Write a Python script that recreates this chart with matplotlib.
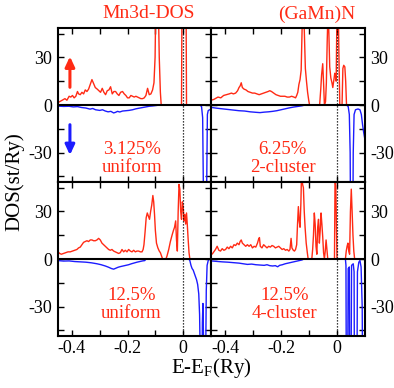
import matplotlib
matplotlib.use('Agg')
import matplotlib.pyplot as plt

plt.rcParams.update({
    'font.family': ['Liberation Serif', 'DejaVu Serif'],
    'mathtext.fontset': 'custom',
    'mathtext.rm': 'Liberation Serif',
    'axes.unicode_minus': False,
    'font.size': 13,
})

RED = '#ff2a14'
BLUE = '#1c1cff'

# ---- data: Mn 3d DOS, spin up (positive) and spin down (negative) ----
# panel a: 3.125% uniform
e_up_a = [-0.450, -0.440, -0.430, -0.425, -0.418, -0.410, -0.404, -0.398, -0.392, -0.386,
          -0.380, -0.376, -0.370, -0.364, -0.358, -0.352, -0.346, -0.340, -0.334, -0.328,
          -0.322, -0.316, -0.309, -0.303, -0.297, -0.291, -0.285, -0.279, -0.273, -0.267,
          -0.261, -0.255, -0.249, -0.243, -0.237, -0.231, -0.225, -0.218, -0.212, -0.206,
          -0.200, -0.194, -0.188, -0.182, -0.176, -0.170, -0.164, -0.158, -0.152, -0.146,
          -0.140, -0.134, -0.128, -0.122, -0.116, -0.110, -0.105, -0.101, -0.098, -0.094,
          -0.090, -0.086, -0.082, -0.079, -0.040, -0.006, -0.004, 0.000, 0.004, 0.010,
          0.012, 0.060, 0.100]
dos_up_a = [1.5, 2.5, 3.5, 4, 3, 5.5, 5, 6, 4.5, 5.5,
            8.5, 7, 6.5, 8, 7, 9.5, 8.5, 10, 13, 16,
            13.5, 11, 10, 9, 8, 10.5, 8, 6.5, 9, 9.5,
            11.5, 7, 8.5, 8.5, 7, 6, 8, 8.5, 7, 6,
            4.5, 4.5, 6, 5.5, 5, 5.5, 5, 4.5, 4, 4,
            4.5, 6, 10.5, 6.5, 7, 9.5, 14, 30, 70, 90,
            70, 30, 8, 0, 0, 0, 80, 120, 120, 80,
            0, 0, 0]
e_dn_a = [-0.450, -0.430, -0.410, -0.395, -0.380, -0.365, -0.350, -0.335, -0.325, -0.315,
          -0.300, -0.290, -0.280, -0.270, -0.260, -0.250, -0.243, -0.236, -0.228, -0.218,
          -0.206, -0.195, -0.182, -0.170, -0.158, -0.146, -0.134, -0.122, -0.110, -0.096,
          -0.085, 0.060, 0.066, 0.070, 0.073, 0.080, 0.084, 0.087, 0.090, 0.095, 0.100]
dos_dn_a = [-0.7, -0.9, -0.8, -1.2, -1.0, -1.6, -1.9, -2.6, -2.2, -3.0,
            -3.4, -3.0, -3.8, -4.3, -4.0, -5.0, -4.6, -4.0, -4.4, -3.8,
            -3.6, -3.4, -3.0, -2.4, -2.0, -1.6, -1.2, -0.8, -0.6, -0.3,
            0, 0, -1, -8, -60, -120, -60, -6, -3.5, -3, -3]

# panel b: 6.25% 2-cluster
e_up_b = [-0.450, -0.440, -0.430, -0.425, -0.415, -0.405, -0.395, -0.385, -0.377, -0.370,
          -0.362, -0.355, -0.350, -0.346, -0.342, -0.338, -0.332, -0.325, -0.318, -0.310,
          -0.302, -0.294, -0.286, -0.278, -0.270, -0.262, -0.254, -0.246, -0.240, -0.234,
          -0.226, -0.218, -0.210, -0.202, -0.194, -0.186, -0.178, -0.170, -0.162, -0.154,
          -0.148, -0.144, -0.140, -0.136, -0.132, -0.128, -0.125, -0.122, -0.119, -0.116,
          -0.113, -0.109, -0.105, -0.101, -0.098, -0.062, -0.058, -0.055, -0.051, -0.048,
          -0.045, -0.041, -0.038, -0.035, -0.032, -0.029, -0.026, -0.022, -0.018, -0.015,
          -0.011, -0.008, -0.005, -0.003, 0.000, 0.004, 0.007, 0.010, 0.018, 0.021,
          0.024, 0.028, 0.031, 0.034, 0.100]
dos_up_b = [3, 3.5, 4.5, 5, 4.5, 6, 6.5, 7, 7.5, 7,
            7.5, 9, 11, 12, 14, 11, 10, 9.5, 8.5, 8,
            7.5, 7.5, 7, 6.5, 7, 7.5, 8, 8.5, 9, 8.5,
            7.5, 6.5, 6, 5.5, 5.5, 5.5, 5, 5, 5.5, 5,
            4.5, 6, 8, 13, 16, 22, 45, 70, 60, 42,
            23, 15, 8, 3, 0, 0, 10, 19, 26, 14,
            0, 2, 14, 40, 60, 45, 24, 17, 14, 11,
            16, 20, 18, 15, 60, 70, 30, 0, 0, 23,
            25, 24, 15, 0, 0]
e_dn_b = [-0.450, -0.430, -0.410, -0.390, -0.370, -0.350, -0.330, -0.310, -0.290, -0.275,
          -0.260, -0.245, -0.230, -0.215, -0.200, -0.185, -0.170, -0.155, -0.140, -0.125,
          -0.115, 0.034, 0.040, 0.044, 0.047, 0.050, 0.055, 0.058, 0.061, 0.066,
          0.075, 0.082, 0.087, 0.091, 0.095, 0.100]
dos_dn_b = [-1.5, -2.0, -2.4, -2.8, -3.2, -3.6, -3.8, -4.3, -4.6, -4.8,
            -4.5, -4.3, -4.0, -3.6, -3.0, -2.4, -1.8, -1.3, -0.9, -0.5,
            0, 0, -1, -6, -30, -120, -120, -30, -6, -3,
            -2.5, -3, -6, -12, -17, -22]

# panel c: 12.5% uniform
e_up_c = [-0.450, -0.444, -0.438, -0.430, -0.422, -0.414, -0.406, -0.398, -0.390, -0.382,
          -0.376, -0.370, -0.364, -0.358, -0.352, -0.346, -0.340, -0.334, -0.328, -0.322,
          -0.316, -0.310, -0.304, -0.298, -0.292, -0.286, -0.280, -0.274, -0.268, -0.262,
          -0.256, -0.250, -0.244, -0.238, -0.232, -0.226, -0.220, -0.214, -0.208, -0.202,
          -0.196, -0.190, -0.184, -0.178, -0.172, -0.166, -0.160, -0.154, -0.148, -0.144,
          -0.141, -0.137, -0.133, -0.129, -0.125, -0.121, -0.117, -0.113, -0.109, -0.106,
          -0.103, -0.100, -0.096, -0.091, -0.086, -0.082, -0.078, -0.074, -0.062, -0.058,
          -0.052, -0.046, -0.040, -0.035, -0.031, -0.027, -0.024, -0.021, -0.018, -0.015,
          -0.012, -0.009, -0.006, -0.003, 0.000, 0.003, 0.006, 0.009, 0.012, 0.015,
          0.018, 0.021, 0.024, 0.100]
dos_up_c = [4.5, 3.5, 3, 3.5, 4, 4.5, 4.5, 5, 5.5, 6,
            7, 7.5, 9, 10.5, 11, 11.5, 11, 12, 12, 11.5,
            11.5, 12, 13, 12, 10, 9, 8, 7, 6, 5.5,
            6, 5, 4.5, 4, 3.5, 4, 6, 4.5, 5.5, 4.5,
            6, 5, 4.5, 5.5, 4.5, 5, 5, 4.5, 4.5, 6,
            9, 17, 26, 29, 27, 25, 30, 34, 40, 36,
            28, 18, 10, 7, 5, 4, 2, 0, 0, 2,
            6, 11, 15, 18, 20, 24, 12, 5, 30, 47,
            44, 30, 25, 36, 33, 24, 28, 22, 29, 21,
            12, 4, 0, 0]
e_dn_c = [-0.450, -0.430, -0.410, -0.390, -0.370, -0.350, -0.330, -0.310, -0.295, -0.280,
          -0.268, -0.258, -0.250, -0.242, -0.234, -0.226, -0.216, -0.206, -0.196, -0.186,
          -0.176, -0.166, -0.156, -0.146, -0.138, -0.134, 0.020, 0.024, 0.028, 0.032,
          0.036, 0.040, 0.044, 0.048, 0.052, 0.056, 0.059, 0.062, 0.066, 0.069,
          0.071, 0.074, 0.077, 0.080, 0.083, 0.086, 0.090, 0.094, 0.100]
dos_dn_c = [-1.0, -1.3, -1.2, -1.6, -1.8, -2.0, -2.4, -3.0, -3.6, -4.4,
            -5.2, -6.0, -6.4, -5.8, -5.2, -4.8, -4.4, -4.0, -3.6, -3.0,
            -2.5, -2.0, -1.6, -1.2, -1.0, 0, 0, -1, -4, -6,
            -7, -9, -11, -13, -16, -22, -35, -70, -120, -40,
            -28, -60, -120, -80, -20, -4, -1, 0, 0]

# panel d: 12.5% 4-cluster
e_up_d = [-0.450, -0.444, -0.440, -0.434, -0.428, -0.422, -0.416, -0.410, -0.404, -0.398,
          -0.392, -0.386, -0.380, -0.374, -0.368, -0.362, -0.356, -0.350, -0.346, -0.342,
          -0.338, -0.332, -0.326, -0.320, -0.314, -0.308, -0.302, -0.296, -0.290, -0.284,
          -0.280, -0.277, -0.274, -0.268, -0.262, -0.256, -0.250, -0.244, -0.238, -0.232,
          -0.226, -0.220, -0.214, -0.208, -0.202, -0.196, -0.190, -0.184, -0.178, -0.172,
          -0.168, -0.164, -0.161, -0.156, -0.152, -0.148, -0.144, -0.141, -0.138, -0.135,
          -0.132, -0.129, -0.126, -0.123, -0.120, -0.117, -0.114, -0.110, -0.106, -0.103,
          -0.090, -0.087, -0.084, -0.081, -0.078, -0.075, -0.072, -0.069, -0.066, -0.063,
          -0.060, -0.057, -0.054, -0.051, -0.048, -0.045, -0.042, -0.039, -0.036, -0.033,
          -0.009, -0.007, -0.004, -0.002, 0.000, 0.030, 0.033, 0.036, 0.039, 0.042,
          0.045, 0.048, 0.051, 0.054, 0.057, 0.060, 0.063, 0.100]
dos_up_d = [2.5, 3.5, 4.5, 6, 8, 5.5, 5, 6.5, 5.5, 6,
            7.5, 6.5, 8, 7, 9, 8.5, 10, 9, 11, 12,
            10, 9, 8, 9, 8, 9, 7, 8, 7.5, 10,
            12.5, 13.5, 8, 7, 9, 8, 7, 8, 7.5, 8.5,
            8, 7, 7.5, 8, 7, 6, 6.5, 5.5, 6, 5,
            6, 13, 7, 5.5, 5, 6, 9, 22, 33, 24,
            20, 35, 60, 47, 45, 30, 20, 10, 4, 0,
            0, 6, 15, 29, 22, 8, 3, 20, 25, 10,
            18, 29, 22, 14, 4, 0, 5, 12, 6, 0,
            0, 52, 45, 20, 0, 0, 5, 8, 10, 5,
            3, 30, 44, 30, 15, 5, 0, 0]
e_dn_d = [-0.450, -0.430, -0.410, -0.390, -0.370, -0.350, -0.335, -0.320, -0.305, -0.290,
          -0.275, -0.260, -0.250, -0.240, -0.230, -0.220, -0.212, -0.205, -0.195, -0.185,
          -0.175, -0.165, -0.155, -0.145, -0.135, -0.125, -0.118, 0.030, 0.032, 0.034,
          0.037, 0.040, 0.044, 0.046, 0.049, 0.052, 0.058, 0.061, 0.063, 0.070,
          0.073, 0.078, 0.082, 0.086, 0.090, 0.093, 0.100]
dos_dn_d = [-1.2, -1.5, -1.8, -2.0, -2.3, -2.6, -3.0, -3.4, -3.2, -3.6,
            -3.8, -4.0, -3.6, -4.2, -4.4, -4.2, -4.9, -4.0, -3.6, -3.0,
            -2.6, -2.2, -1.8, -1.4, -1.0, -0.6, 0, 0, -4, -120,
            -120, -6, -5, -120, -120, -4, -3, -8, -120, -120,
            -8, -2, -1, -5, -30, -120, -120]

panel_labels = [('3.125%', 'uniform'), ('6.25%', '2-cluster'),
                ('12.5%', 'uniform'), ('12.5%', '4-cluster')]
x_ticks = [-0.4, -0.2, 0.0]
x_tick_labels = ['-0.4', '-0.2', '0']
y_ticks = [-30, 0, 30]
y_tick_labels = ['-30', '0', '30']

curves = [
    (e_up_a, dos_up_a, e_dn_a, dos_dn_a),
    (e_up_b, dos_up_b, e_dn_b, dos_dn_b),
    (e_up_c, dos_up_c, e_dn_c, dos_dn_c),
    (e_up_d, dos_up_d, e_dn_d, dos_dn_d),
]

W, H = 394, 388
fig = plt.figure(figsize=(W / 100, H / 100), dpi=100)

# panel rectangles in pixels: (left, top, right, bottom)
boxes = [(58, 28, 211, 182), (211, 28, 365, 182),
         (58, 182, 211, 336), (211, 182, 365, 336)]
label_pos = [(0.484, 0.185, 0.068), (0.465, 0.180, 0.063),
             (0.480, 0.236, 0.117), (0.480, 0.236, 0.115)]

axes = []
for i, (l, t, r, b) in enumerate(boxes):
    ax = fig.add_axes([l / W, 1 - b / H, (r - l) / W, (b - t) / H])
    e_up, d_up, e_dn, d_dn = curves[i]
    ax.plot(e_up, d_up, color=RED, lw=1.0, zorder=2)
    ax.plot(e_dn, d_dn, color=BLUE, lw=1.0, zorder=2)
    ax.axhline(0, color='k', lw=1.5, zorder=3)
    ax.axvline(0, color='k', lw=0.9, ls=(0, (1, 1.4)), zorder=4)
    ax.set_xlim(-0.45, 0.1)
    ax.set_ylim(-48.5, 48.5)

    ax.set_xticks(x_ticks)
    ax.set_xticklabels(x_tick_labels)
    ax.set_xticks([-0.3, -0.1], minor=True)
    ax.set_yticks(y_ticks)
    ax.set_yticklabels(y_tick_labels)
    ax.set_yticks([-45, -15, 15, 45], minor=True)
    ax.tick_params(which='both', direction='in', top=True, right=True,
                   bottom=True, left=True, length=4.5, width=1.0)
    ax.tick_params(axis='both', labelsize=13, pad=4)
    left_col = i in (0, 2)
    ax.tick_params(axis='y', labelleft=left_col, labelright=not left_col)
    ax.tick_params(axis='x', labelbottom=i >= 2, pad=3)
    for s in ax.spines.values():
        s.set_linewidth(1.5)

    lx, ly1, ly2 = label_pos[i]
    ax.text(lx, ly1, panel_labels[i][0], transform=ax.transAxes, ha='center',
            va='baseline', color=RED, fontsize=13.5)
    ax.text(lx, ly2, panel_labels[i][1], transform=ax.transAxes, ha='center',
            va='baseline', color=RED, fontsize=13.5)
    axes.append(ax)

# spin arrows
ax0 = axes[0]
arrow_style = '-|>,head_length=0.6,head_width=0.28'
ax0.annotate('', xy=(0.078, 0.815), xytext=(0.078, 0.615), xycoords='axes fraction',
             arrowprops=dict(arrowstyle=arrow_style, color=RED, lw=2.2,
                             mutation_scale=10, shrinkA=0, shrinkB=0))
ax0.annotate('', xy=(0.078, 0.175), xytext=(0.078, 0.372), xycoords='axes fraction',
             arrowprops=dict(arrowstyle=arrow_style, color=BLUE, lw=2.2,
                             mutation_scale=10, shrinkA=0, shrinkB=0))

fig.text(149 / W, 1 - 14 / H, 'Mn3d-DOS', ha='center', va='center', color=RED, fontsize=14)
fig.text(317 / W, 1 - 14 / H, '(GaMn)N', ha='center', va='center', color=RED, fontsize=14)
fig.text(15 / W, 1 - 182 / H, 'DOS(st/Ry)', ha='center', va='center', rotation=90, fontsize=15)
fig.text(211 / W, 1 - 368 / H, 'E-E$_\\mathrm{F}$(Ry)', ha='center', va='center', fontsize=15)

fig.savefig('out.png', dpi=100)
